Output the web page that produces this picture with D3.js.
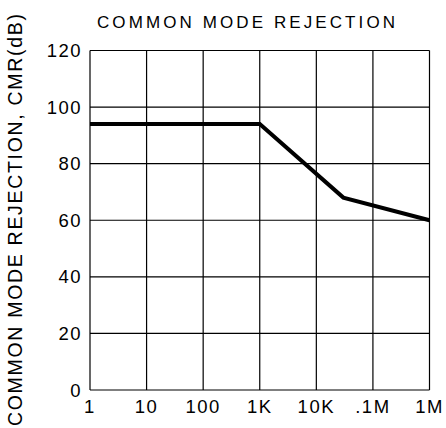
<!DOCTYPE html>
<html><head><meta charset="utf-8">
<script src="https://cdn.jsdelivr.net/npm/d3@7"></script>
<style>body{margin:0;background:#fff}svg{display:block}text{font-family:"Liberation Sans",Arial,sans-serif;fill:#000}</style>
</head><body>
<svg id="c" width="446" height="428"></svg>
<script>
const freq = [1, 1000, 30000, 1000000];
const cmr = [94, 94, 68, 60];
const xTicks = [1, 10, 100, 1000, 10000, 100000, 1000000];
const xTickLabels = ["1", "10", "100", "1K", "10K", ".1M", "1M"];
const yTicks = [0, 20, 40, 60, 80, 100, 120];
const title = "COMMON MODE REJECTION";
const yTitle = "COMMON MODE REJECTION, CMR(dB)";

const svg = d3.select("#c");
const L = 90, R = 429.5, T = 50.5, B = 390;
const x = d3.scaleLog().domain([1, 1e6]).range([L, R]);
const y = d3.scaleLinear().domain([0, 120]).range([B, T]);

const g = svg.append("g");
g.selectAll(".vg").data(xTicks).join("line")
  .attr("x1", d => x(d)).attr("x2", d => x(d)).attr("y1", T).attr("y2", B)
  .attr("stroke", "#000").attr("stroke-width", 1.2);
g.selectAll(".hg").data(yTicks).join("line")
  .attr("x1", L).attr("x2", R).attr("y1", d => y(d)).attr("y2", d => y(d))
  .attr("stroke", "#000").attr("stroke-width", 1.2);

g.selectAll(".xl").data(xTicks).join("text")
  .attr("x", d => x(d)).attr("y", 413).attr("text-anchor", "middle")
  .attr("font-size", 18.5).attr("letter-spacing", 1.5)
  .text((d, i) => xTickLabels[i]);
g.selectAll(".yl").data(yTicks).join("text")
  .attr("x", 82).attr("y", d => y(d) + 6.5).attr("text-anchor", "end")
  .attr("font-size", 18.5).attr("letter-spacing", 1.5)
  .text(d => d);

svg.append("text").attr("x", 97).attr("y", 27.5)
  .attr("font-size", 17).attr("textLength", 298).attr("lengthAdjust", "spacing")
  .text(title);
svg.append("text").attr("transform", "translate(22,426) rotate(-90)")
  .attr("font-size", 19.5).attr("textLength", 412).attr("lengthAdjust", "spacing")
  .text(yTitle);

const line = d3.line().x((d, i) => x(freq[i])).y(d => y(d));
svg.append("path").attr("d", line(cmr)).attr("fill", "none")
  .attr("stroke", "#000").attr("stroke-width", 4).attr("stroke-linejoin", "miter");
</script>
</body></html>
